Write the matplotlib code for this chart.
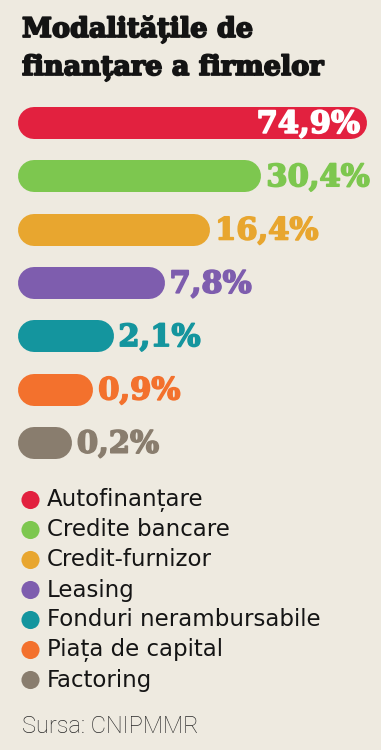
import numpy as np
import matplotlib
matplotlib.use("Agg")
import matplotlib.pyplot as plt
import matplotlib.patheffects as pe

# Данные
categories = ["Autofinanțare", "Credite bancare", "Credit-furnizor", "Leasing",
              "Fonduri nerambursabile", "Piața de capital", "Factoring"]
values = [74.9, 30.4, 16.4, 7.8, 2.1, 0.9, 0.2]
value_labels = ["74,9%", "30,4%", "16,4%", "7,8%", "2,1%", "0,9%", "0,2%"]
colors = ["#E2213F", "#7DC74F", "#E8A62F", "#7E5DAE", "#14959E", "#F3712D", "#897D6E"]

bg = "#EEEAE0"
W, H = 381, 750
fig = plt.figure(figsize=(W / 100, H / 100), dpi=100, facecolor=bg)

# Заголовок
title_font = dict(family="DejaVu Serif", weight="bold", color="#141414", fontsize=19.5,
                  path_effects=[pe.withStroke(linewidth=1.3, foreground="#141414")])
fig.text(22 / W, 1 - 37 / H, "Modalitățile de", **title_font)
fig.text(22 / W, 1 - 75 / H, "finanțare a firmelor", **title_font)

# Ось с полосами (степенная шкала, как в оригинале)
p = 0.45
k = 45.5
left_px = 34.0
x_max = 100.0
width_px = k * x_max ** p
row_h = 53.3
top_px = 123 - row_h / 2
ax = fig.add_axes([left_px / W, 1 - (top_px + 7 * row_h) / H, width_px / W, 7 * row_h / H])
ax.set_facecolor("none")
ax.set_xscale("function", functions=(lambda x: np.sign(x) * np.abs(x) ** p,
                                     lambda x: np.sign(x) * np.abs(x) ** (1 / p)))
ax.set_xlim(0, x_max)
ax.set_ylim(6.5, -0.5)
ax.axis("off")

lw_pt = 32 * 72 / 100
for i, (v, c, lab) in enumerate(zip(values, colors, value_labels)):
    ax.plot([0, v], [i, i], color=c, lw=lw_pt, solid_capstyle="round", clip_on=False)
    if i == 0:
        ax.annotate(lab, (v, i), xytext=(6, -1), textcoords="offset points",
                    ha="right", va="center", color="white", fontsize=22,
                    family="DejaVu Serif", weight="bold",
                    path_effects=[pe.withStroke(linewidth=1.2, foreground="white")])
    else:
        ax.annotate(lab, (v, i), xytext=(15, -1), textcoords="offset points",
                    ha="left", va="center", color=c, fontsize=22,
                    family="DejaVu Serif", weight="bold",
                    path_effects=[pe.withStroke(linewidth=1.2, foreground=c)])

# Легенда
leg_top = 500
leg_step = 30
axl = fig.add_axes([0, 1 - (leg_top + 6.5 * leg_step) / H, 1, 7 * leg_step / H])
axl.set_xlim(0, W)
axl.set_ylim(6.5, -0.5)
axl.axis("off")
axl.scatter([30.5] * len(categories), range(len(categories)), s=170, c=colors, linewidths=0)
for i, cat in enumerate(categories):
    axl.text(47, i, cat, va="center", ha="left", fontsize=16.5, family="DejaVu Sans",
             color="#151515")

fig.text(22 / W, 1 - 726 / H, "Sursa: CNIPMMR", va="center", ha="left",
         fontsize=17, family="Roboto", weight="light", color="#2a2a2a")

fig.savefig("out.png", dpi=100, facecolor=bg)
